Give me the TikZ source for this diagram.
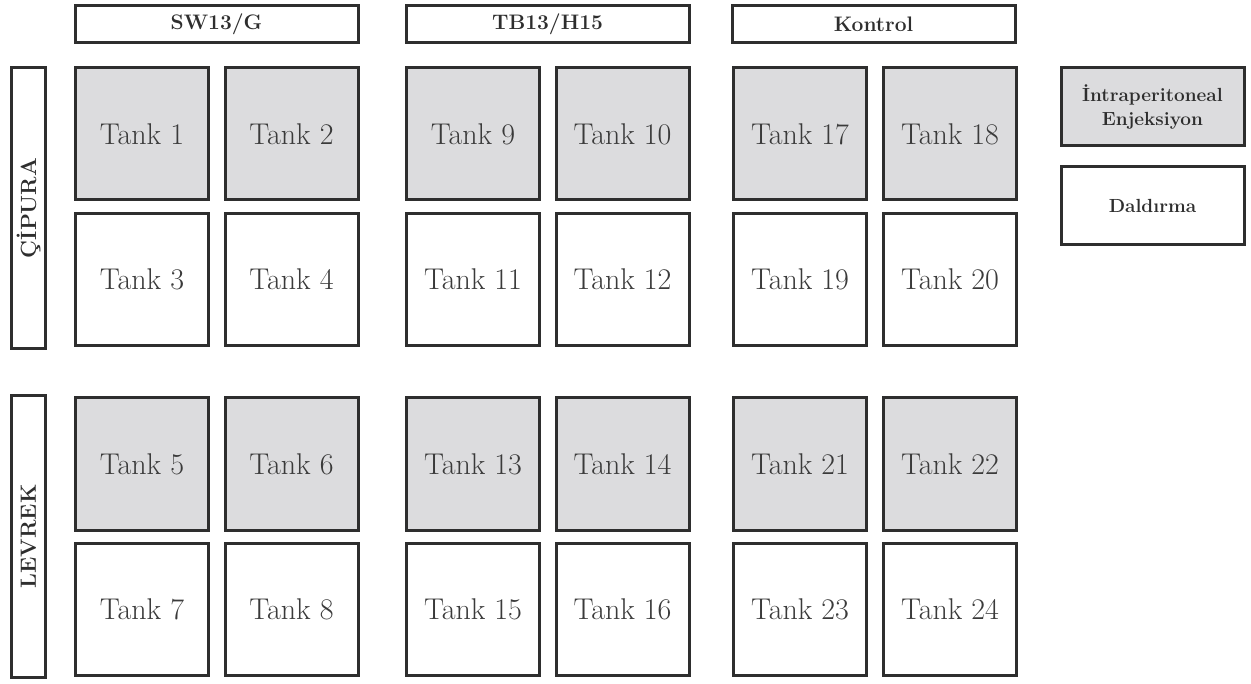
\documentclass[tikz,border=0pt]{standalone}
\usepackage{fontspec}
\usepackage{xcolor}
\definecolor{tankGray}{HTML}{DCDCDE}
\definecolor{tankText}{HTML}{3A3A3A}
\definecolor{tankLine}{HTML}{2E2E2E}
\tikzset{
  tankBox/.style={draw=tankLine, line width=3pt, minimum width=133pt, minimum height=132pt,
    inner sep=0pt, text=tankText, font={\fontsize{30}{33}\selectfont}},
  injBox/.style={tankBox, fill=tankGray},
  dipBox/.style={tankBox, fill=white},
  groupBox/.style={draw=tankLine, line width=3pt, minimum width=283pt, minimum height=37pt,
    inner sep=0pt, text=tankText!80!black, font={\fontsize{21}{24}\selectfont\bfseries}},
  fishBox/.style={draw=tankLine, line width=3pt, minimum width=281pt, minimum height=34pt,
    inner sep=0pt, rotate=90, text=tankText!80!black, font={\fontsize{22}{25}\selectfont\bfseries}},
  keyBox/.style={draw=tankLine, line width=3pt, minimum width=183pt, minimum height=78pt,
    inner sep=0pt, align=center, text=tankText!80!black, font={\fontsize{19}{24}\selectfont\bfseries}}
}

\begin{document}
\begin{tikzpicture}[x=1pt,y=-1pt]
\useasboundingbox (0,0) rectangle (1251,684);
% group headers
\node[groupBox] (hSW) at (216.5,24) {SW13/G};
\node[groupBox] (hTB) at (547.5,24) {TB13/H15};
\node[groupBox] (hKo) at (873.5,24) {Kontrol};
% species labels
\node[fishBox] (fCip) at (28.5,208) {ÇİPURA};
\node[fishBox] (fLev) at (28.5,536.5) {LEVREK};
% ÇİPURA tanks
\node[injBox] (t1) at (142,134) {Tank 1};
\node[injBox] (t2) at (291.5,134) {Tank 2};
\node[dipBox] (t3) at (142,279.5) {Tank 3};
\node[dipBox] (t4) at (291.5,279.5) {Tank 4};
\node[injBox] (t9) at (473,134) {Tank 9};
\node[injBox] (t10) at (622.5,134) {Tank 10};
\node[dipBox] (t11) at (473,279.5) {Tank 11};
\node[dipBox] (t12) at (622.5,279.5) {Tank 12};
\node[injBox] (t17) at (800,134) {Tank 17};
\node[injBox] (t18) at (950,134) {Tank 18};
\node[dipBox] (t19) at (800,279.5) {Tank 19};
\node[dipBox] (t20) at (950,279.5) {Tank 20};
% LEVREK tanks
\node[injBox] (t5) at (142,464) {Tank 5};
\node[injBox] (t6) at (291.5,464) {Tank 6};
\node[dipBox] (t7) at (142,609.5) {Tank 7};
\node[dipBox] (t8) at (291.5,609.5) {Tank 8};
\node[injBox] (t13) at (473,464) {Tank 13};
\node[injBox] (t14) at (622.5,464) {Tank 14};
\node[dipBox] (t15) at (473,609.5) {Tank 15};
\node[dipBox] (t16) at (622.5,609.5) {Tank 16};
\node[injBox] (t21) at (800,464) {Tank 21};
\node[injBox] (t22) at (950,464) {Tank 22};
\node[dipBox] (t23) at (800,609.5) {Tank 23};
\node[dipBox] (t24) at (950,609.5) {Tank 24};
% legend
\node[keyBox, fill=tankGray] (kInj) at (1152.5,106.5) {İntraperitoneal\\Enjeksiyon};
\node[keyBox, fill=white] (kDip) at (1152.5,206) {Daldırma};
\end{tikzpicture}
\end{document}
